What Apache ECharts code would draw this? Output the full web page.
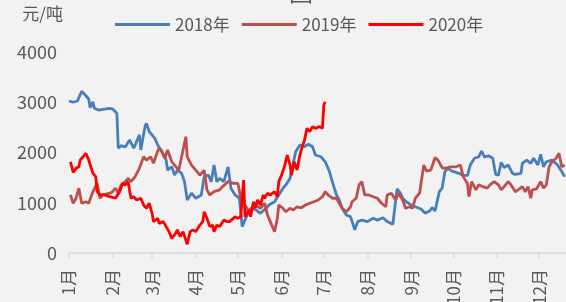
<!DOCTYPE html>
<html>
<head>
<meta charset="utf-8">
<script src="https://cdn.jsdelivr.net/npm/echarts@6/dist/echarts.min.js"></script>
<style>
  html, body { margin: 0; padding: 0; background: #f2f2f2; }
  #chart { width: 566px; height: 302px; }
</style>
</head>
<body>
<div id="chart"></div>
<script>
// 日期用距1月1日的天数表示
const days2018 = [0, 3, 6, 9, 12, 14, 15, 17, 18, 21, 25, 29, 31, 34, 35, 37, 40, 43, 46, 50, 51, 54, 55, 57, 61, 63, 66, 69, 70, 73, 75, 77, 80, 82, 84, 87, 90, 94, 96, 99, 101, 103, 105, 107, 110, 113, 115, 118, 121, 123, 126, 129, 133, 136, 140, 142, 146, 149, 152, 154, 157, 159, 161, 164, 167, 170, 173, 175, 179, 182, 185, 187, 190, 192, 194, 197, 200, 203, 205, 208, 212, 216, 219, 223, 226, 227, 230, 233, 235, 237, 240, 243, 246, 250, 253, 256, 258, 260, 263, 265, 267, 269, 272, 277, 280, 283, 285, 288, 291, 293, 295, 298, 301, 303, 305, 307, 309, 312, 315, 317, 321, 322, 325, 328, 330, 333, 335, 337, 339, 343, 347, 350, 352];
const vals2018 = [3025, 3000, 3025, 3220, 3130, 3065, 2890, 3010, 2880, 2845, 2865, 2880, 2865, 2780, 2085, 2135, 2110, 2250, 2085, 2350, 2050, 2515, 2580, 2415, 2280, 2150, 2015, 1850, 1650, 1715, 1550, 1650, 1585, 1420, 1055, 1190, 1090, 1155, 1520, 1550, 1420, 1750, 1420, 1485, 1420, 1715, 1290, 1155, 1090, 525, 720, 890, 855, 790, 890, 955, 1020, 1155, 1290, 1355, 1485, 1750, 2015, 2150, 2115, 2165, 2115, 1950, 1915, 1815, 1620, 1420, 1155, 1055, 890, 755, 720, 460, 625, 655, 625, 690, 655, 700, 625, 590, 570, 1275, 1205, 1090, 1010, 955, 920, 875, 790, 835, 900, 835, 1220, 1290, 1620, 1685, 1630, 1585, 1550, 1540, 1750, 1885, 1915, 2030, 1915, 1935, 1885, 1565, 1550, 1805, 1700, 1750, 1585, 1565, 1585, 1785, 1850, 1785, 1885, 1750, 1965, 1715, 1815, 1850, 1750, 1620, 1520];

const days2019 = [1, 3, 5, 7, 9, 12, 14, 17, 20, 22, 24, 29, 31, 33, 35, 37, 40, 42, 44, 47, 50, 53, 55, 58, 60, 62, 64, 66, 68, 70, 73, 75, 78, 80, 81, 83, 84, 87, 90, 93, 96, 98, 100, 103, 107, 109, 113, 117, 120, 122, 125, 127, 129, 132, 134, 136, 139, 141, 144, 146, 148, 149, 152, 154, 157, 159, 162, 165, 168, 171, 174, 177, 180, 182, 184, 187, 190, 192, 194, 197, 200, 201, 204, 206, 208, 210, 213, 216, 219, 222, 225, 226, 229, 232, 234, 237, 239, 242, 244, 246, 249, 250, 252, 254, 257, 260, 262, 265, 267, 271, 275, 278, 280, 283, 284, 286, 289, 291, 294, 297, 299, 302, 305, 307, 309, 312, 314, 317, 319, 322, 324, 326, 328, 329, 332, 335, 337, 339, 341, 343, 346, 348, 350, 352];
const vals2019 = [1155, 990, 1090, 1290, 990, 1020, 990, 1220, 1385, 1090, 1155, 1190, 1220, 1290, 1190, 1355, 1420, 1485, 1420, 1520, 1685, 1915, 1850, 1915, 1785, 1950, 2095, 2015, 1885, 2050, 1815, 1750, 1650, 1915, 1950, 2315, 1915, 1750, 1650, 1550, 1650, 1255, 1155, 1220, 1255, 1320, 1420, 1385, 1385, 1090, 955, 855, 855, 990, 920, 890, 990, 755, 555, 425, 690, 955, 890, 820, 890, 855, 920, 900, 955, 990, 1020, 1055, 1120, 1220, 1155, 1090, 1090, 990, 890, 820, 920, 1020, 1090, 1355, 1420, 1155, 1155, 1120, 1090, 990, 920, 1155, 1190, 1055, 1190, 1055, 890, 920, 890, 1090, 1190, 1170, 1750, 1630, 1650, 1900, 1850, 1700, 1685, 1715, 1715, 1750, 1520, 1385, 1120, 1420, 1255, 1355, 1320, 1290, 1355, 1420, 1355, 1255, 1320, 1420, 1355, 1220, 1255, 1320, 1220, 1320, 1090, 1255, 1275, 1420, 1290, 1355, 1715, 1815, 1885, 1985, 1715, 1750];

const days2020 = [1, 3, 5, 7, 8, 10, 12, 14, 15, 17, 19, 20, 22, 25, 29, 33, 36, 38, 40, 42, 44, 46, 48, 51, 53, 55, 57, 59, 60, 63, 64, 67, 69, 71, 73, 75, 77, 79, 81, 84, 86, 88, 90, 93, 95, 96, 98, 100, 102, 103, 105, 107, 110, 112, 114, 115, 118, 120, 122, 124, 125, 128, 129, 131, 132, 134, 136, 138, 139, 141, 143, 146, 148, 149, 151, 153, 155, 157, 158, 160, 162, 164, 166, 167, 169, 171, 173, 175, 178, 180, 181, 182];
const vals2020 = [1815, 1605, 1685, 1715, 1850, 1915, 1985, 1850, 1815, 1585, 1520, 1220, 1155, 1155, 1120, 1090, 1220, 1385, 1355, 1420, 1090, 1120, 1055, 1090, 955, 890, 990, 790, 625, 690, 590, 625, 525, 425, 290, 360, 460, 325, 425, 175, 425, 460, 425, 555, 625, 820, 690, 525, 555, 425, 555, 525, 655, 625, 625, 655, 720, 690, 720, 1450, 720, 855, 720, 1020, 890, 1055, 955, 1155, 1090, 1190, 1155, 1220, 1120, 1420, 1550, 1715, 1950, 1750, 1550, 1815, 1650, 1950, 2150, 2215, 2480, 2415, 2515, 2480, 2515, 2480, 2945, 3010];

const seriesNames = ['2018年', '2019年', '2020年'];
const colors = ['#4a7ebb', '#be4f4c', '#ff0000'];

function toPairs(days, vals) {
    return days.map((d, i) => [new Date(2019, 0, 1 + d).getTime(), vals[i]]);
}

const chart = echarts.init(document.getElementById('chart'));
const font = '"Noto Sans CJK SC", "Noto Sans", sans-serif';

chart.setOption({
    backgroundColor: '#f2f2f2',
    textStyle: { fontFamily: font },
    title: {
        text: '图',
        left: 289,
        top: -20,
        padding: 0,
        textStyle: { fontSize: 24, fontWeight: 'normal', color: '#595959', fontFamily: font },
    },
    legend: {
        data: seriesNames,
        left: 110,
        top: 11,
        icon: 'rect',
        itemWidth: 55,
        itemHeight: 3,
        itemGap: 12,
        textStyle: { fontSize: 17, color: '#595959', fontFamily: font },
    },
    // 标签允许超出画布底部（原图中被裁掉）
    grid: { left: 69, right: 0, top: 52, bottom: 49, outerBoundsMode: 'none' },
    xAxis: {
        type: 'time',
        min: new Date(2019, 0, 1).getTime(),
        max: new Date(2019, 11, 20).getTime(),
        splitNumber: 12,
        axisLine: { lineStyle: { color: '#d9d9d9', width: 1.5 } },
        axisTick: { show: true, length: 5, lineStyle: { color: '#d9d9d9', width: 1.5 } },
        splitLine: { show: false },
        axisLabel: {
            rotate: 90,
            margin: 16,
            fontSize: 17,
            color: '#595959',
            fontFamily: font,
            showMaxLabel: false,
            formatter: (val) => (new Date(val).getMonth() + 1) + '月',
        },
    },
    yAxis: {
        type: 'value',
        min: 0,
        max: 4000,
        interval: 1000,
        name: '元/吨',
        nameLocation: 'end',
        nameGap: 30,
        nameTextStyle: { fontSize: 17, color: '#595959', align: 'right', padding: [0, 6, 0, 0], fontFamily: font },
        axisLine: { show: false },
        axisTick: { show: false },
        splitLine: { show: false },
        axisLabel: { fontSize: 18, color: '#595959', margin: 12, fontFamily: font, formatter: (v) => String(v) },
    },
    series: [
        { name: seriesNames[0], type: 'line', data: toPairs(days2018, vals2018) },
        { name: seriesNames[1], type: 'line', data: toPairs(days2019, vals2019) },
        { name: seriesNames[2], type: 'line', data: toPairs(days2020, vals2020) },
    ].map((s, i) => Object.assign(s, {
        showSymbol: false,
        symbol: 'none',
        color: colors[i],
        lineStyle: { width: 2.8, color: colors[i] },
        animation: false,
    })),
});
</script>
</body>
</html>
